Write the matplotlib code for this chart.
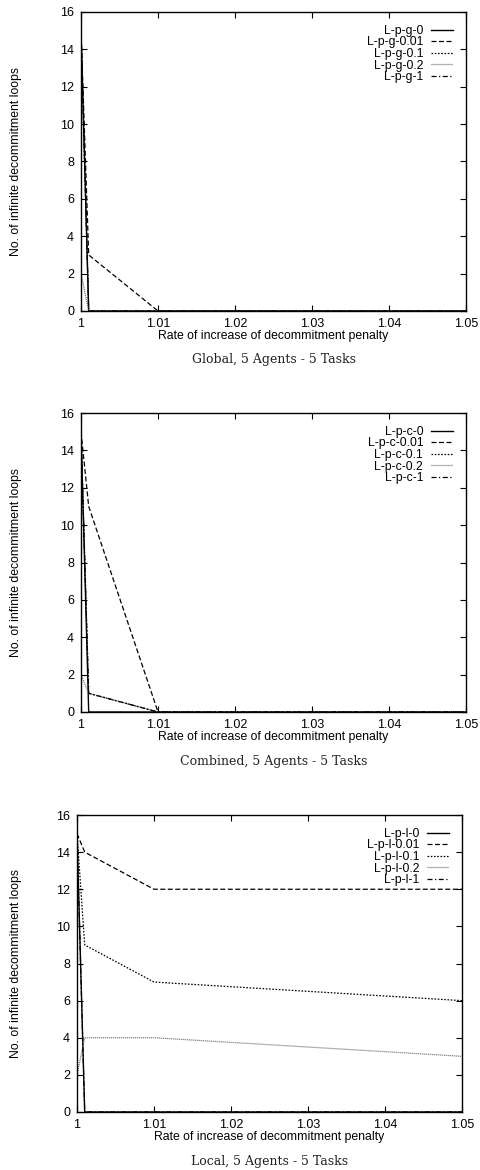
import matplotlib
matplotlib.use("Agg")
import matplotlib.pyplot as plt
from matplotlib.ticker import FixedLocator, FixedFormatter

plt.rcParams['font.family'] = ['Liberation Sans', 'DejaVu Sans']

x = [1.0, 1.001, 1.01, 1.05]

labels_g = ["L-p-g-0", "L-p-g-0.01", "L-p-g-0.1", "L-p-g-0.2", "L-p-g-1"]
g_0 = [15, 0, 0, 0]
g_001 = [15, 3, 0, 0]
g_01 = [15, 0, 0, 0]
g_02 = [2, 0, 0, 0]
g_1 = [15, 0, 0, 0]

labels_c = ["L-p-c-0", "L-p-c-0.01", "L-p-c-0.1", "L-p-c-0.2", "L-p-c-1"]
c_0 = [15, 0, 0, 0]
c_001 = [15, 11, 0, 0]
c_01 = [15, 1, 0, 0]
c_02 = [2, 1, 0, 0]
c_1 = [15, 1, 0, 0]

labels_l = ["L-p-l-0", "L-p-l-0.01", "L-p-l-0.1", "L-p-l-0.2", "L-p-l-1"]
l_0 = [15, 0, 0, 0]
l_001 = [15, 14, 12, 12]
l_01 = [15, 9, 7, 6]
l_02 = [2, 4, 4, 3]
l_1 = [15, 0, 0, 0]

xticks = [1.0, 1.01, 1.02, 1.03, 1.04, 1.05]
xticklabels = ["1", "1.01", "1.02", "1.03", "1.04", "1.05"]
yticks = [0, 2, 4, 6, 8, 10, 12, 14, 16]

titles = ["Global, 5 Agents - 5 Tasks", "Combined, 5 Agents - 5 Tasks", "Local, 5 Agents - 5 Tasks"]

styles = [
    dict(color='black', lw=1.0, ls='-'),
    dict(color='black', lw=0.9, ls=(0, (4, 2))),
    dict(color='black', lw=0.9, ls=(0, (1.3, 1.3))),
    dict(color='#666666', lw=0.9, ls=(0, (0.8, 0.8))),
    dict(color='black', lw=0.9, ls=(0, (4, 2, 1, 2))),
]

W, H = 480, 1170
fig = plt.figure(figsize=(W / 100, H / 100), dpi=100)

rects = [
    (81, 12, 466, 311),
    (81, 413, 466, 712),
    (77, 815, 462, 1112),
]
title_y = [360, 761, 1162]

data = [
    (labels_g, [g_0, g_001, g_01, g_02, g_1]),
    (labels_c, [c_0, c_001, c_01, c_02, c_1]),
    (labels_l, [l_0, l_001, l_01, l_02, l_1]),
]

for (l, t, r, b), (labs, series), title, ty in zip(rects, data, titles, title_y):
    ax = fig.add_axes([l / W, 1 - b / H, (r - l) / W, (b - t) / H])
    for lab, ys, st in zip(labs, series, styles):
        ax.plot(x, ys, label=lab, **st)
    ax.set_xlim(1.0, 1.05)
    ax.set_ylim(0, 16)
    ax.xaxis.set_major_locator(FixedLocator(xticks))
    ax.xaxis.set_major_formatter(FixedFormatter(xticklabels))
    ax.set_yticks(yticks)
    ax.tick_params(direction='in', length=4, width=0.8, top=True, right=True,
                   labelsize=9, pad=5)
    for sp in ax.spines.values():
        sp.set_linewidth(1.0)
    ax.set_xlabel("Rate of increase of decommitment penalty", fontsize=8.8, labelpad=0)
    ax.set_ylabel("No. of infinite decommitment loops", fontsize=8.8)
    ax.yaxis.set_label_coords(-(l - 22) / (r - l), 0.5)
    leg = ax.legend(loc='upper right', frameon=False, markerfirst=False,
                    fontsize=8.8, handlelength=1.8, labelspacing=-0.03,
                    borderaxespad=0.65, handletextpad=0.65)
    for txt in leg.get_texts():
        txt.set_ha('right')
    leg._legend_box.align = 'right'
    fig.text((l + r) / 2 / W, 1 - ty / H, title, ha='center', va='center',
             family='DejaVu Serif', fontsize=9, color='#222222')

fig.savefig("out.png", dpi=100)
